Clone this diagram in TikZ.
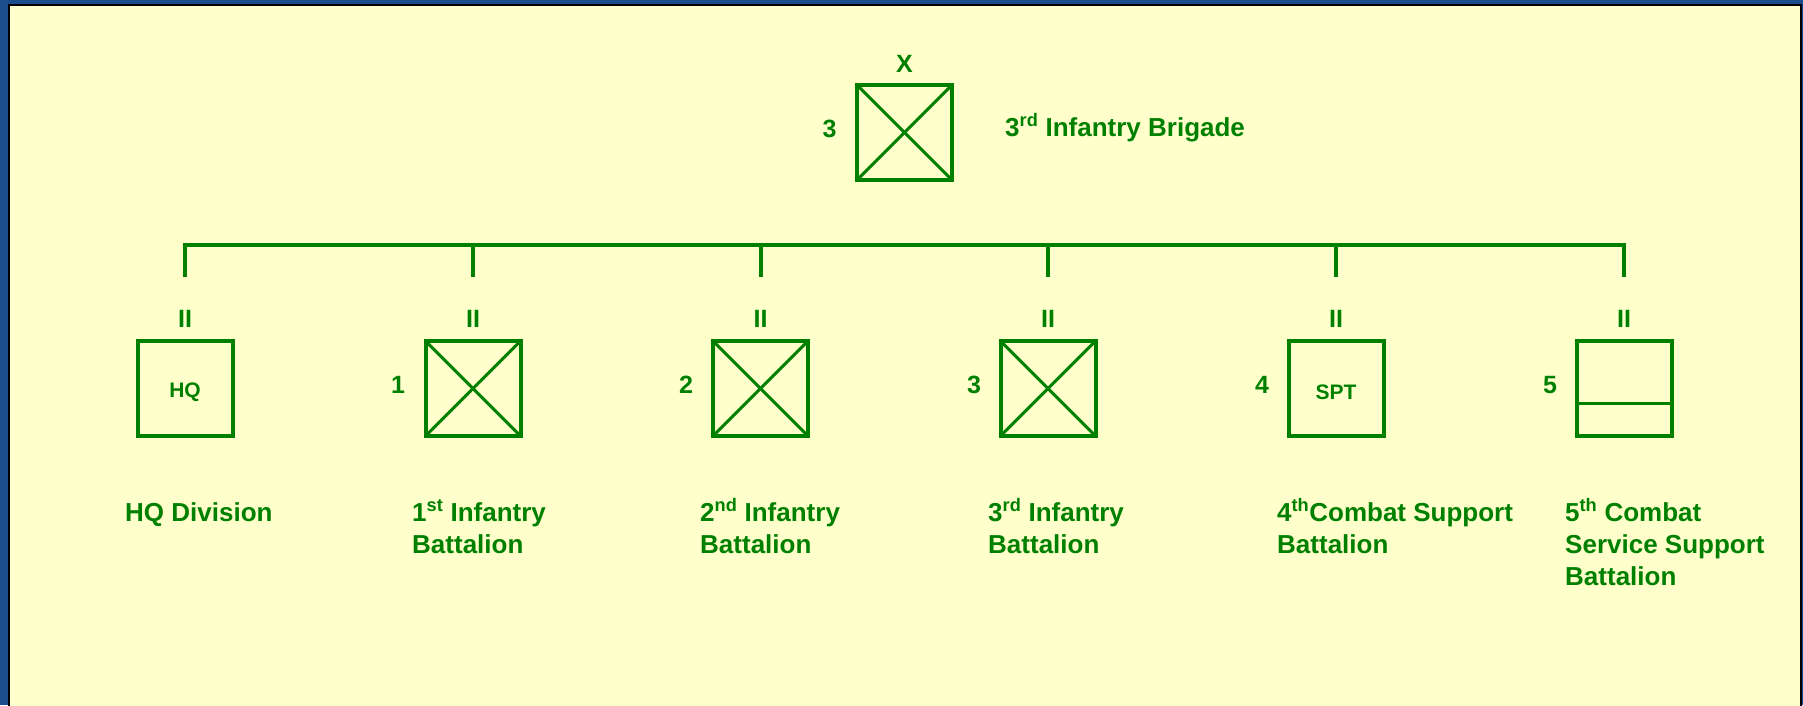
\documentclass[tikz,border=0pt]{standalone}
\usepackage{fontspec}
\setmainfont{Liberation Sans}
\definecolor{armygreen}{RGB}{0,128,0}
\definecolor{paper}{RGB}{255,255,204}
\definecolor{slideblue}{RGB}{28,76,140}
\newcommand\toplines[1]{\vtop{\halign{##\hfil\cr#1\crcr}}}
\begin{document}
\begin{tikzpicture}[x=1pt,y=-1pt,
  unitbox/.style={draw=armygreen, line width=4pt, rectangle, minimum size=95pt, inner sep=0pt, outer sep=0pt},
  echelon/.style={text=armygreen, font=\bfseries\fontsize{25}{30}\selectfont, inner sep=0pt},
  unitnum/.style={text=armygreen, font=\bfseries\fontsize{25}{30}\selectfont, inner sep=0pt},
  inbox/.style={text=armygreen, font=\bfseries\fontsize{21}{25}\selectfont, inner sep=0pt},
  unitlabel/.style={text=armygreen, font=\bfseries\fontsize{26}{32}\selectfont, inner sep=0pt, anchor=base west},
  conn/.style={draw=armygreen, line width=4pt, line join=miter},
  symline/.style={draw=armygreen, line width=3pt}
]
\useasboundingbox (0,0) rectangle (1803,705);
\fill[slideblue] (0,0) rectangle (1803,705);
\draw[fill=paper, line width=2.5pt, draw=black] (9,5) rectangle (1801,712);

% Brigade
\node[unitbox] (brig) at (904.5,132.5) {};
\draw[symline] (brig.north west) -- (brig.south east);
\draw[symline] (brig.north east) -- (brig.south west);
\node[echelon] (brigech) at (904.5,64) {X};
\node[unitnum] (brignum) at (829.5,129) {3};
\node[unitlabel] (briglab) at (1005,136) {3\textsuperscript{rd} Infantry Brigade};

% Subordinate units
\node[unitbox] (hq)  at (185,388.5) {};
\node[unitbox] (b1)  at (473,388.5) {};
\node[unitbox] (b2)  at (760.5,388.5) {};
\node[unitbox] (b3)  at (1048,388.5) {};
\node[unitbox] (spt) at (1336,388.5) {};
\node[unitbox] (css) at (1624,388.5) {};

\node[inbox] (hqtxt) at (185,392) {HQ};
\node[inbox] (spttxt) at (1336,392) {SPT};
\foreach \u in {b1,b2,b3}{
  \draw[symline] (\u.north west) -- (\u.south east);
  \draw[symline] (\u.north east) -- (\u.south west);
}
\draw[symline] (css.west |- 0,403) -- (css.east |- 0,403);

\foreach \u/\x in {hq/185,b1/473,b2/760.5,b3/1048,spt/1336,css/1624}{
  \node[echelon] (\u ech) at (\x,319) {II};
}
\node[unitnum] (b1num)  at (398,385) {1};
\node[unitnum] (b2num)  at (686,385) {2};
\node[unitnum] (b3num)  at (974,385) {3};
\node[unitnum] (sptnum) at (1262,385) {4};
\node[unitnum] (cssnum) at (1550,385) {5};

% Connectors
\foreach \u/\x in {hq/185,b1/473,b2/760.5,b3/1048,spt/1336,css/1624}{
  \coordinate (j\u) at (\x,245);
  \coordinate (d\u) at (\x,277);
}
\draw[conn] (dhq) -- (jhq) -- (jcss) -- (dcss);
\foreach \u in {b1,b2,b3,spt}{
  \draw[conn] (j\u) -- (d\u);
}

% Labels
\node[unitlabel] (hqlab)  at (125,521) {HQ Division};
\node[unitlabel] (b1lab)  at (412,521) {\toplines{1\textsuperscript{st} Infantry\cr Battalion}};
\node[unitlabel] (b2lab)  at (700,521) {\toplines{2\textsuperscript{nd} Infantry\cr Battalion}};
\node[unitlabel] (b3lab)  at (988,521) {\toplines{3\textsuperscript{rd} Infantry\cr Battalion}};
\node[unitlabel] (sptlab) at (1277,521) {\toplines{4\textsuperscript{th}Combat Support\cr Battalion}};
\node[unitlabel] (csslab) at (1565,521) {\toplines{5\textsuperscript{th} Combat\cr Service Support\cr Battalion}};
\end{tikzpicture}
\end{document}
